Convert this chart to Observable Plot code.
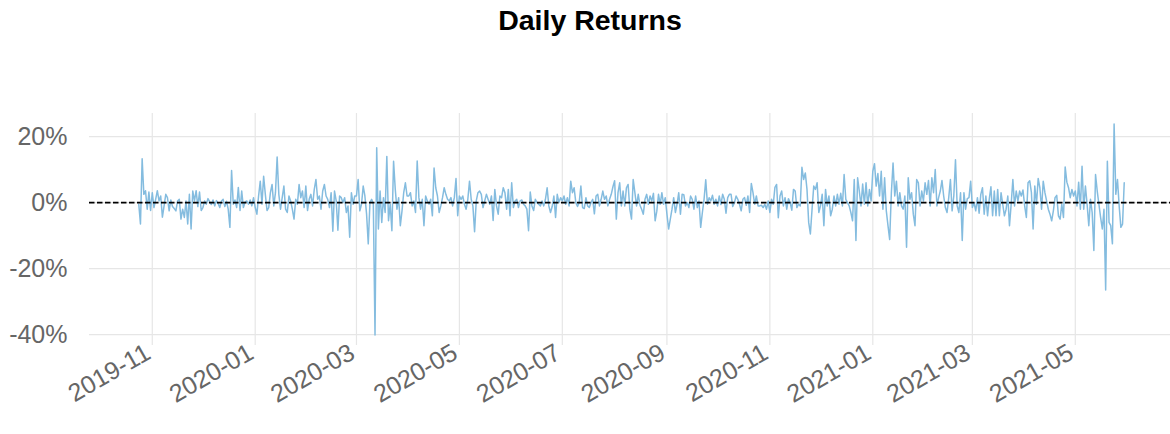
<!DOCTYPE html>
<html><head><meta charset="utf-8">
<script src="https://cdn.jsdelivr.net/npm/d3@7"></script>
<script src="https://cdn.jsdelivr.net/npm/@observablehq/plot@0.6"></script>
<style>
html,body{margin:0;padding:0;background:#fff;overflow:hidden;}
#title{width:1170px;height:60px;box-sizing:border-box;padding-top:6px;padding-left:10px;text-align:center;font:bold 28.5px/1 "Liberation Sans",Arial,sans-serif;color:#000;}
#chart svg{display:block;}
</style></head><body>
<div id="title">Daily Returns</div>
<div id="chart"></div>
<script>
// Daily returns in percent, one array per month (first array starts 2019-10-24)
const r2019_10 = [-0.5, -6.5, 13.3, 2.5, 3.6, -2.0, 3.2, -2.4];
const r2019_11 = [3.0, -1.5, 1.0, 3.6, 0.5, 2.0, -4.4, -1.0, 2.5, 1.5, -2.5, 0.8, -1.2, -1.8, -2.5, 0.5, 1.0, -5.0, -2.0, -4.5, 0.5, -6.5, 2.5, -8.0, 3.5, 0.5, 3.6, -1.2, 3.2, -2.4];
const r2019_12 = [-1.5, 0.5, -0.5, 1.2, 0.3, -0.6, 0.8, -1.0, 0.6, -0.2, -1.5, 0.5, 1.0, -1.2, 0.4, -2.0, -7.5, 9.7, -0.5, 0.8, -1.5, 4.6, -2.4, 3.5, -1.5, 0.2, 0.5, -0.5, 0.8, -1.0, 1.5];
const r2020_01 = [-1.5, -3.5, 2.0, 6.5, -0.5, 8.0, 2.5, -2.4, -1.5, 3.0, 5.5, -1.0, 3.0, 13.8, 2.5, -2.0, 1.5, 5.0, -2.0, -3.0, 2.0, 0.5, -2.0, -5.0, 1.0, -0.5, 5.5, 1.5, 3.5, -1.5, 5.0];
const r2020_02 = [-2.4, 1.0, 2.5, -1.0, 4.0, 7.0, 1.0, 2.0, -2.0, 3.5, 5.5, 2.0, 1.0, -1.5, 3.0, -8.7, 3.5, 0.5, -8.4, 2.0, 1.5, 0.0, 1.5, -3.0, -1.0, -10.5, 3.0, -0.5, 2.0];
const r2020_03 = [2.0, 7.0, -2.5, -0.5, 5.0, 2.0, -3.5, -12.5, 0.0, 1.0, -0.5, -40.1, 16.6, -8.0, 3.5, -6.0, 1.5, -3.0, 14.0, -5.5, -0.5, -8.5, 12.5, 4.0, -2.0, 1.5, -7.0, -2.5, 3.0, 6.0, 2.0];
const r2020_04 = [2.0, 3.0, -1.0, 0.5, -3.0, 12.6, 1.5, -2.0, 1.0, -7.0, 2.0, 0.5, -0.5, 1.0, -4.0, 10.5, 4.5, 2.0, -3.0, -1.0, 1.5, 4.5, 2.5, 1.0, 0.5, 1.5, -1.0, 1.5, 7.3, -4.0];
const r2020_05 = [2.0, 1.0, 2.0, -0.5, -2.0, 1.0, 6.5, 1.0, -1.0, -8.8, 0.5, 3.0, 3.5, 2.5, -1.5, 0.5, 2.5, 1.0, -0.5, 2.0, -5.4, 4.0, -1.0, -3.5, 2.0, 1.5, 4.5, 3.0, -2.0, 4.0, -4.0];
const r2020_06 = [6.0, -1.5, 0.5, 1.0, -1.5, 0.5, 0.8, -0.5, -1.0, -2.0, -8.5, 3.2, -1.0, -2.4, 1.0, 0.0, -0.5, -1.0, 0.5, -1.0, 1.0, 4.5, -1.0, -3.0, -1.2, 2.0, -4.5, 2.5, 0.0, 1.5];
const r2020_07 = [0.5, 2.0, -0.5, 1.5, -1.0, 6.5, 3.0, 4.5, 0.0, -1.2, 0.0, 5.0, -1.5, -1.8, 1.5, -1.0, -1.5, 0.0, 1.0, -3.4, 2.0, 2.5, -1.0, 1.0, 3.5, 1.0, 2.0, -1.0, 1.0, 2.5, 4.8];
const r2020_08 = [6.6, -5.0, 3.0, 6.0, -1.0, 3.5, -1.0, 4.5, 5.5, -2.0, -5.0, 7.0, 3.0, -1.0, 2.5, -0.8, -2.0, -3.5, 1.0, 2.5, -0.5, 2.0, 0.5, 2.8, -5.5, -2.6, 2.5, -0.5, 3.0, -0.5, 1.5];
const r2020_09 = [-3.5, -8.0, -5.0, -2.0, 1.5, -3.0, -0.5, 3.0, -3.5, 2.5, 2.4, -1.0, 0.0, -1.5, 2.0, 1.0, -2.0, 2.0, -1.5, 0.5, -7.5, -3.0, 1.0, 6.9, -0.5, 1.5, 0.5, 2.2, -0.5, 1.0];
const r2020_10 = [-1.0, 2.0, -0.6, 2.5, 1.0, -3.2, 1.5, 2.5, 2.5, -1.2, 0.0, 2.0, 1.0, -0.5, -2.5, 1.0, 1.5, -0.8, 2.0, -3.0, 5.8, 3.0, -0.5, 2.0, -1.0, -1.0, -0.8, -1.5, -0.5, -2.0, 0.5];
const r2020_11 = [-3.0, 1.0, -0.5, 4.6, 5.5, -4.6, 2.0, 3.5, -1.0, 1.5, -2.0, 1.2, 0.0, -2.3, 4.0, 3.5, -1.5, -0.5, -1.0, 10.7, 7.0, 9.0, 4.0, -6.0, -9.5, -2.0, 5.0, 4.0, 6.0, -3.0];
const r2020_12 = [-1.0, 2.5, -7.0, 4.0, -1.0, 2.0, -4.0, -2.0, 2.0, -1.0, 2.5, -0.5, 2.8, -1.0, 8.5, 1.0, 0.0, -1.0, -3.0, -5.5, 7.0, -11.5, 7.5, 3.5, -1.0, 5.6, -0.5, 6.0, -1.0, 4.0, 0.5];
const r2021_01 = [9.5, 11.8, 5.0, 8.8, 2.0, 9.5, -2.0, 7.5, -2.5, -7.0, -11.2, 3.0, 12.0, 2.0, 6.5, -1.0, 3.0, -1.0, -2.0, 2.0, -13.5, 7.5, 1.0, 3.0, -3.5, -7.0, 7.0, 6.0, -1.0, 3.5, 0.5];
const r2021_02 = [6.0, 2.5, 6.7, -1.0, 7.5, 3.0, 10.0, -1.0, 1.5, 3.5, 6.7, 2.0, -1.5, -3.0, 1.5, 7.0, -2.5, 2.0, 13.0, -1.0, -3.0, 3.0, -11.5, 3.0, -2.0, 1.2, 1.5, 6.5];
const r2021_03 = [-1.5, 0.0, -2.5, 1.5, -3.2, 2.5, 4.5, -3.5, 2.0, -4.0, 1.0, 4.8, -4.0, 3.5, -4.0, 4.0, -4.0, 3.0, -0.5, -4.0, -2.0, 2.0, -7.0, -0.5, 7.0, -1.0, 3.5, 0.5, 3.5, 2.0, 3.8];
const r2021_04 = [-1.0, -4.5, 6.0, 6.6, 3.0, -8.0, 5.0, -0.5, 7.3, 4.5, -2.0, 6.5, 3.0, 0.5, -2.0, -3.5, -5.5, -2.5, 1.5, 2.2, -4.0, -5.0, -0.5, -4.5, 10.8, 6.2, 4.5, 1.5, 4.0, 2.0];
const r2021_05 = [3.5, -1.0, 6.2, -2.0, 11.0, -2.0, 5.0, -0.5, -7.0, 1.0, -3.0, -14.5, 8.5, 3.5, -0.5, -4.5, -8.0, -2.0, -26.5, 12.5, -6.0, -7.0, -12.5, 23.8, 2.5, 7.0, -1.0, -7.5, -6.5, 6.0];

const monthStarts = ["2019-10-24","2019-11-01","2019-12-01","2020-01-01","2020-02-01","2020-03-01","2020-04-01","2020-05-01","2020-06-01","2020-07-01","2020-08-01","2020-09-01","2020-10-01","2020-11-01","2020-12-01","2021-01-01","2021-02-01","2021-03-01","2021-04-01","2021-05-01"];
const monthReturns = [r2019_10,r2019_11,r2019_12,r2020_01,r2020_02,r2020_03,r2020_04,r2020_05,r2020_06,r2020_07,r2020_08,r2020_09,r2020_10,r2020_11,r2020_12,r2021_01,r2021_02,r2021_03,r2021_04,r2021_05];

const xTickLabels = ["2019-11","2020-01","2020-03","2020-05","2020-07","2020-09","2020-11","2021-01","2021-03","2021-05"];
const yTickValues = [-40, -20, 0, 20];

const data = [];
monthStarts.forEach((s, m) => {
  const start = new Date(s + "T00:00:00Z");
  monthReturns[m].forEach((v, i) => data.push({date: d3.utcDay.offset(start, i), ret: v}));
});

const xTicks = xTickLabels.map(s => new Date(s + "-01T00:00:00Z"));
const [d0, d1] = d3.extent(data, d => d.date);
const span = d1 - d0;
const xDomain = [new Date(+d0 - 0.05 * span), new Date(+d1 + 0.05 * span)];
const [v0, v1] = d3.extent(data, d => d.ret);
const vr = v1 - v0;
const yDomain = [v0 - 0.05 * vr, v1 + 0.05 * vr];

const chart = Plot.plot({
  width: 1170,
  height: 374,
  marginTop: 53,
  marginBottom: 89,
  marginLeft: 89,
  marginRight: 0,
  style: {fontFamily: "'Liberation Sans', Arial, sans-serif", fontSize: "25px", color: "#666", background: "#fff"},
  x: {type: "utc", domain: xDomain, range: [89, 1173], label: null},
  y: {domain: yDomain, label: null},
  marks: [
    Plot.gridY({ticks: yTickValues, stroke: "#e6e6e6", strokeOpacity: 1, strokeWidth: 1.2}),
    Plot.gridX({ticks: xTicks, stroke: "#e6e6e6", strokeOpacity: 1, strokeWidth: 1.2}),
    Plot.axisY({ticks: yTickValues, tickFormat: d => d + "%", tickSize: 0, tickPadding: 22, fontSize: 25, fill: "#666"}),
    Plot.axisX({ticks: xTicks, tickFormat: d3.utcFormat("%Y-%m"), tickSize: 0, tickPadding: 5, tickRotate: -30, fontSize: 25, fill: "#666", dx: -4}),
    Plot.line(data, {x: "date", y: "ret", stroke: "#84bcdf", strokeWidth: 1.5}),
    Plot.ruleY([0], {stroke: "#000", strokeWidth: 1.6, strokeDasharray: "5.5,2.5"})
  ]
});
document.getElementById("chart").appendChild(chart);
</script></body></html>
